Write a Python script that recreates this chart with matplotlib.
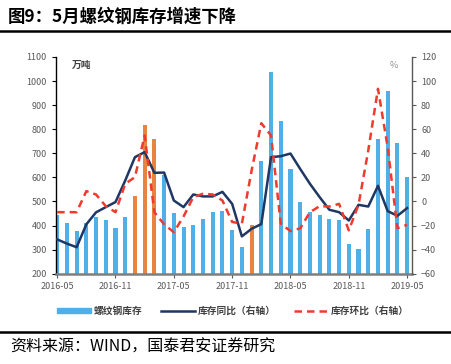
import matplotlib.pyplot as plt
from matplotlib.lines import Line2D
from matplotlib.patches import Patch

plt.rcParams['font.family'] = ['Noto Sans CJK SC', 'DejaVu Sans']

# months 2016-05 .. 2019-05
months = ["2016-05", "2016-06", "2016-07", "2016-08", "2016-09", "2016-10", "2016-11",
          "2016-12", "2017-01", "2017-02", "2017-03", "2017-04", "2017-05", "2017-06",
          "2017-07", "2017-08", "2017-09", "2017-10", "2017-11", "2017-12", "2018-01",
          "2018-02", "2018-03", "2018-04", "2018-05", "2018-06", "2018-07", "2018-08",
          "2018-09", "2018-10", "2018-11", "2018-12", "2019-01", "2019-02", "2019-03",
          "2019-04", "2019-05"]
stock = [445, 410, 377, 410, 436, 423, 390, 436, 522, 816, 760, 611, 453, 392, 402, 427,
         456, 459, 383, 310, 403, 669, 1037, 836, 634, 496, 456, 443, 427, 423, 323, 302,
         385, 759, 959, 742, 601]
highlight = ["2017-01", "2017-02", "2017-03", "2018-01"]
yoy = [-31.5, -35, -38, -19, -9, -4.7, -0.5, 17.4, 36.8, 41, 23.8, 24, 0.8, -4.7, 5.8,
       4.2, 4.2, 8, -2, -29, -22.7, -18.8, 36.8, 37.6, 39.8, 27, 14.7, 3.6, -6.9, -8.9,
       -15.8, -2.8, -4.2, 13, -8, -11.9, -5.5]
mom = [-8.9, -8.9, -8.9, 8.6, 5.8, -3.9, -8.9, 14.7, 20.2, 54.8, -8.9, -19, -25.5, -12.5,
       3.6, 6.4, 5.8, 0.8, -17, -18.5, 25.7, 65, 54.8, -18.5, -24.6, -22.3, -8.9, -3.9,
       -4.2, -2, -24, -2.8, 42.3, 93.6, 45, -22.2, -19.4]
tick_labels = ["2016-05", "2016-11", "2017-05", "2017-11", "2018-05", "2018-11", "2019-05"]

blue = "#4FB0E8"
orange = "#E8843F"
navy = "#1F3763"
red = "#F03A2E"
gray = "#595959"

fig = plt.figure(figsize=(4.52, 3.64), dpi=100)
ax = fig.add_axes([56 / 452, 1 - 273.7 / 364, 356 / 452, 216.7 / 364])
ax2 = ax.twinx()

x = list(range(len(months)))
colors = [orange if m in highlight else blue for m in months]
ax.bar(x, stock, width=0.42, color=colors, zorder=2)
ax.set_ylim(200, 1100)
ax.set_yticks(range(200, 1101, 100))
ax.set_xlim(-0.12, 36.5)
ax.set_xticks([months.index(t) for t in tick_labels])
ax.set_xticklabels(tick_labels)

ax2.plot(x, yoy, color=navy, lw=1.8, zorder=3)
ax2.plot(x, mom, color=red, lw=1.8, ls=(0, (3, 2)), zorder=4)
ax2.set_ylim(-60, 120)
ax2.set_yticks(range(-60, 121, 20))

for a in (ax, ax2):
    a.spines['top'].set_visible(False)
    a.tick_params(labelsize=6.5, labelcolor=gray, length=3, width=0.8, colors=gray)
ax.spines['left'].set_color('black')
ax.spines['left'].set_linewidth(1)
ax.spines['right'].set_visible(False)
ax2.spines['left'].set_visible(False)
ax2.spines['bottom'].set_visible(False)
ax2.spines['right'].set_color(gray)
ax2.spines['right'].set_linewidth(1)
ax.spines['bottom'].set_color('#7F7F7F')
ax.spines['bottom'].set_linewidth(1.8)
ax.tick_params(axis='x', pad=3)
ax.tick_params(axis='y', colors='black', labelcolor=gray)

fig.text(72 / 452, 1 - 65 / 364, "万吨", fontsize=7, fontweight='bold', color='#404040',
         va='center')
fig.text(390 / 452, 1 - 65 / 364, "%", fontsize=6.5, color='#909090', va='center')

# title and rules
fig.text(8 / 452, 1 - 17 / 364, "图9：5月螺纹钢库存增速下降", fontsize=12.5,
         fontweight='bold', va='center')
fig.add_artist(Line2D([0, 1], [1 - 31 / 364] * 2, color='black', lw=1.8,
                      transform=fig.transFigure))
fig.add_artist(Line2D([0, 1], [1 - 332 / 364] * 2, color='black', lw=1.8,
                      transform=fig.transFigure))
fig.text(10 / 452, 1 - 347 / 364, "资料来源：WIND，国泰君安证券研究", fontsize=11.5,
         va='center')

handles = [Patch(color=blue),
           Line2D([], [], color=navy, lw=1.8),
           Line2D([], [], color=red, lw=1.8, ls=(0, (3, 2)))]
labels = ["螺纹钢库存", "库存同比（右轴）", "库存环比（右轴）"]
fig.legend(handles, labels, loc='center', bbox_to_anchor=(0.515, 1 - 311 / 364), ncol=3,
           frameon=False, handlelength=3.5, handleheight=0.55,
           columnspacing=1.9, handletextpad=0.3,
           prop={'weight': 'bold', 'size': 7})
for t in fig.legends[0].get_texts():
    t.set_color('#404040')

fig.savefig("out.png", dpi=100)
